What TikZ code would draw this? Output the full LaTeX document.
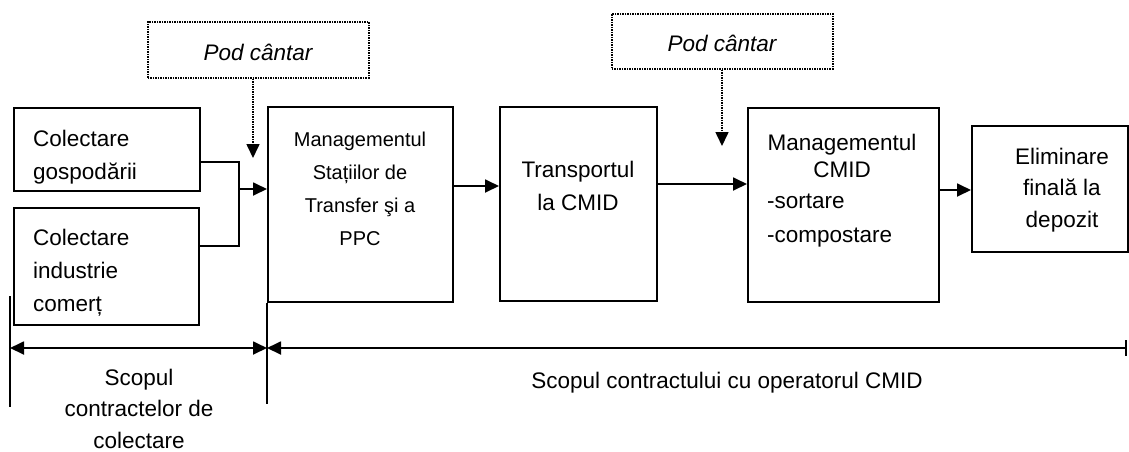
\documentclass[tikz,border=0pt]{standalone}
\usepackage{fontspec}
\setmainfont{Liberation Sans}
\usetikzlibrary{arrows.meta}
\begin{document}
\begin{tikzpicture}[x=1pt,y=-1pt,
  box/.style={draw,line width=2pt,inner sep=0pt,anchor=north west},
  dbox/.style={draw,line width=1.6pt,dash pattern=on 1.4pt off 1.1pt,inner sep=0pt,anchor=north west},
  txt/.style={inner sep=0pt,font=\fontsize{22.5}{33.3}\selectfont},
  smalltxt/.style={inner sep=0pt,font=\fontsize{20}{33}\selectfont},
  ln/.style={line width=1.8pt},
  tip/.tip={Triangle[length=14pt,width=13pt]},
  arr/.style={ln,-tip},
  darr/.style={line width=1.6pt,dash pattern=on 1.4pt off 1.1pt,-tip}
]
\path[use as bounding box] (0,0) rectangle (1129,451);

% boxes
\node[box,minimum width=186pt,minimum height=83pt] (gosp) at (13,107) {};
\node[box,minimum width=185pt,minimum height=117pt] (ind) at (13,207) {};
\node[box,minimum width=185pt,minimum height=195pt] (mgmt) at (267,106) {};
\node[box,minimum width=157pt,minimum height=194pt] (trans) at (499,106) {};
\node[box,minimum width=191pt,minimum height=194pt] (cmid) at (747,107) {};
\node[box,minimum width=156pt,minimum height=126pt] (elim) at (971,125) {};
\node[dbox,minimum width=221pt,minimum height=56pt] (pod1) at (147,21) {};
\node[dbox,minimum width=221pt,minimum height=55pt] (pod2) at (611,13) {};

% texts
\node[txt,align=left,anchor=north west] (tgosp) at (33,129.6) {Colectare\\gospodării};
\node[txt,align=left,anchor=north west] (tind) at (33,228.6) {Colectare\\industrie\\comerț};
\node[smalltxt,align=center,anchor=north] (tmgmt) at (360,132) {Managementul\\Stațiilor de\\Transfer şi a\\PPC};
\node[txt,align=center,anchor=north] (ttrans) at (578,161) {Transportul\\la CMID};
\node[inner sep=0pt,font=\fontsize{22.5}{27}\selectfont,align=center,anchor=north] (tcmid) at (842,133.6) {Managementul\\CMID};
\node[txt,align=left,anchor=north west] (tcmid2) at (767,194) {-sortare\\-compostare};
\node[inner sep=0pt,font=\fontsize{22.5}{31.6}\selectfont,align=center,anchor=north] (telim) at (1062,147.6) {Eliminare\\finală la\\depozit};
\node[txt,anchor=base] (tpod1) at (258,60) {\itshape Pod cântar};
\node[txt,anchor=base] (tpod2) at (722,51) {\itshape Pod cântar};
\node[inner sep=0pt,font=\fontsize{22.5}{31.5}\selectfont,align=center,anchor=north] (tsc1) at (139,368.6) {Scopul\\contractelor de\\colectare};
\node[txt,anchor=base] (tsc2) at (727,388) {Scopul contractului cu operatorul CMID};

% connectors
\coordinate (j) at (239,189);
\draw[ln] (gosp.east |- 0,162) -- (239,162) -- (239,246) -- (ind.east |- 0,246);
\draw[arr] (j) -- (mgmt.west |- j);
\draw[arr] (mgmt.east |- 0,186) -- (trans.west |- 0,186);
\draw[arr] (trans.east |- 0,184) -- (cmid.west |- 0,184);
\draw[arr] (cmid.east |- 0,190) -- (elim.west |- 0,190);

\coordinate (d1) at (253,158);
\coordinate (d2) at (722,146);
\draw[darr] (pod1.south -| d1) -- (d1);
\draw[darr] (pod2.south -| d2) -- (d2);

% dimension lines
\coordinate (a0) at (10,296);
\coordinate (a1) at (10,407);
\coordinate (b1) at (267,404);
\coordinate (c1) at (1127,348);
\draw[ln] (a0) -- (a1);
\draw[ln] (mgmt.south west) -- (b1);
\draw[ln,tip-tip] (a0 |- c1) -- (mgmt.west |- c1);
\draw[ln,tip-{Bar[width=16pt]}] (mgmt.west |- c1) -- (c1);
\end{tikzpicture}
\end{document}
